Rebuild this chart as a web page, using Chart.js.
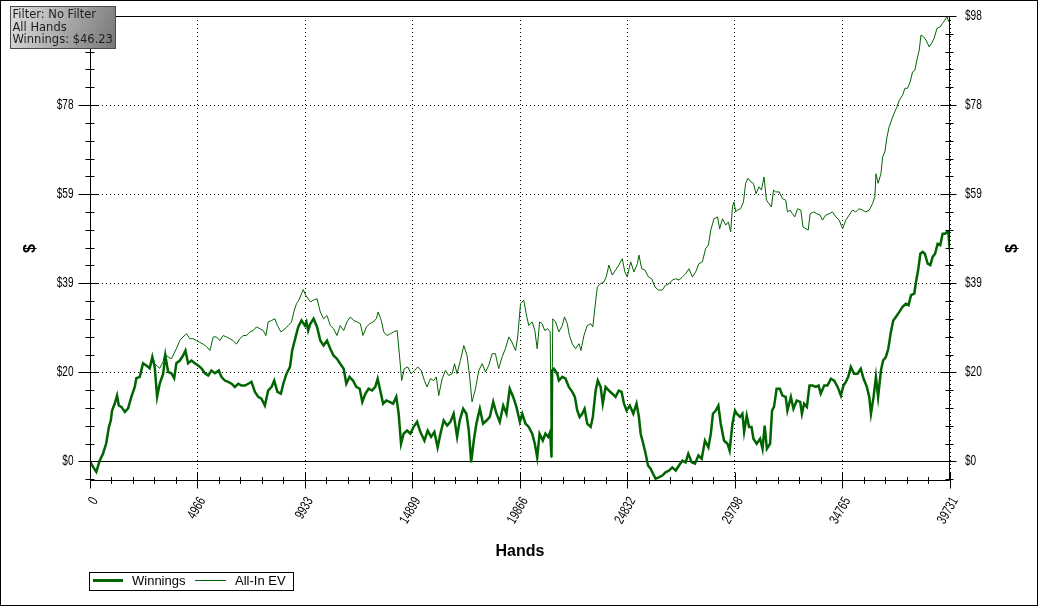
<!DOCTYPE html>
<html>
<head>
<meta charset="utf-8">
<script src="https://cdn.jsdelivr.net/npm/chart.js@4.4.0/dist/chart.umd.min.js"></script>
<style>
  html, body { margin: 0; padding: 0; background: #fff; }
</style>
</head>
<body>
<canvas id="myChart" width="1038" height="606"></canvas>
<script>
// Hands played at each sampled point, and cumulative winnings ($)
const winHands = [0, 140, 290, 450, 600, 750, 870, 960, 1020, 1140, 1250, 1330, 1450, 1610, 1760, 1910, 2070, 2140, 2300, 2450, 2600, 2760, 2880, 2990, 3100, 3220, 3380, 3480, 3610, 3760, 3890, 3990, 4150, 4300, 4410, 4530, 4690, 4840, 5000, 5150, 5310, 5460, 5610, 5770, 5950, 6070, 6230, 6380, 6540, 6690, 6850, 7000, 7160, 7310, 7460, 7620, 7770, 7920, 8080, 8230, 8390, 8510, 8660, 8820, 8930, 9080, 9240, 9340, 9500, 9620, 9770, 9930, 10000, 10080,
  10180, 10330, 10490, 10640, 10790, 10950, 11100, 11250, 11410, 11560, 11720, 11840, 11990, 12150, 12300, 12460, 12580, 12720, 12870, 13030, 13180, 13290, 13410, 13540, 13690, 13840, 14000, 14150, 14260, 14370, 14490, 14650, 14800, 14950, 15110, 15260, 15450, 15600, 15760, 15910, 16060, 16190, 16340, 16500, 16650, 16800, 16960, 17080, 17240, 17390, 17500, 17610, 17730, 17850, 18010, 18160, 18320, 18470, 18630, 18780, 18930, 19090, 19240, 19390, 19550, 19700, 19860,
  19970, 20120, 20270, 20430, 20550, 20660, 20770, 20920, 21040, 21170, 21260, 21320, 21350, 21430, 21590, 21660, 21820, 21970, 22120, 22280, 22400, 22510, 22620, 22740, 22850, 22970, 23130, 23230, 23360, 23460, 23590, 23690, 23820, 23970, 24130, 24280, 24430, 24560, 24670, 24790, 24940, 25100, 25250, 25360, 25440, 25560, 25670, 25780, 25900, 26010, 26130, 26280, 26440, 26590, 26750, 26900, 27060, 27210, 27370, 27520, 27640, 27800, 27950, 28110, 28260, 28410, 28570, 28680, 28780, 28910, 29030, 29140, 29290, 29450, 29550, 29680, 29800,
  29880, 30030, 30140, 30220, 30340, 30450, 30560, 30650, 30800, 30960, 31070, 31170, 31270, 31420, 31510, 31600, 31720, 31870, 31990, 32140, 32220, 32380, 32500, 32650, 32810, 32890, 32990, 33120, 33240, 33380, 33530, 33660, 33760, 33920, 34070, 34230, 34380, 34540, 34690, 34810, 34920, 35030, 35150, 35300, 35460, 35610, 35740, 35890, 36000, 36080, 36200, 36310, 36410, 36540, 36640, 36770, 36880, 37000, 37110, 37230, 37390, 37540, 37690, 37820, 37930, 38080, 38160, 38260, 38360, 38470, 38570, 38700, 38820, 38930, 39040, 39160, 39280, 39390, 39500, 39590, 39650, 39731];
const winnings = [0, -1.2, -2.3, 0.2, 1.7, 4.0, 7.5, 9.0, 11.2, 12.7, 14.5, 12.3, 12.0, 10.9, 11.7, 14.2, 16.4, 18.3, 18.6, 21.6, 21.1, 20.5, 23.0, 20.8, 14.2, 17.1, 19.3, 23.3, 19.7, 19.4, 18.3, 21.6, 22.2, 23.3, 24.4, 21.6, 22.2, 21.6, 21.1, 20.5, 19.4, 18.9, 20.0, 19.4, 20.0, 18.6, 17.8, 17.5, 17.1, 16.4, 17.1, 16.7, 16.7, 17.1, 17.5, 15.3, 14.2, 13.8, 12.3, 15.6, 16.4, 17.8, 15.3, 14.9, 17.1, 19.3, 20.8, 24.4, 27.4, 29.6, 31.0, 29.9, 30.7, 28.8,
  30.3, 31.4, 29.6, 26.6, 25.5, 26.6, 24.8, 23.3, 22.6, 21.5, 20.4, 17.1, 18.6, 17.8, 16.4, 16.0, 13.1, 14.9, 16.0, 15.6, 16.4, 18.2, 15.6, 12.7, 13.4, 13.1, 12.7, 14.2, 10.5, 3.9, 6.1, 6.8, 6.1, 7.6, 8.7, 6.5, 4.6, 6.8, 5.4, 6.5, 3.1, 6.1, 9.0, 7.9, 8.7, 10.5, 5.4, 9.0, 11.6, 10.5, 6.8, -0.2, 4.6, 8.3, 11.6, 8.3, 9.0, 9.8, 13.1, 10.5, 8.7, 12.3, 10.5, 16.0, 14.2, 12.0, 8.7,
  10.5, 8.3, 7.6, 6.1, 3.9, 0.9, 6.1, 4.6, 6.1, 5.4, 6.5, 0.9, 20.0, 20.4, 19.3, 17.8, 18.6, 18.2, 16.4, 15.3, 14.2, 11.2, 9.8, 10.5, 11.6, 8.3, 7.6, 9.8, 15.6, 17.8, 16.4, 12.7, 16.4, 15.6, 14.9, 14.2, 15.6, 15.3, 12.7, 11.2, 12.3, 10.5, 12.7, 9.8, 6.1, 3.9, 1.7, -0.9, -1.6, -2.7, -3.8, -3.5, -3.1, -2.4, -2.0, -1.3, -2.0, -0.9, 0.2, -0.2, 1.7, -0.2, -0.5, 1.3, 0.6, 4.6, 3.1, 6.1, 10.5, 11.2, 12.3, 8.3, 4.6, 3.9, 2.4, 8.3, 11.2,
  10.5, 9.8, 10.5, 6.5, 10.1, 7.6, 7.6, 5.0, 3.9, 5.0, 2.8, 7.9, 2.8, 3.9, 11.2, 12.0, 16.0, 16.0, 14.5, 14.2, 11.2, 14.2, 11.6, 13.4, 13.1, 10.5, 12.7, 12.0, 16.7, 16.7, 16.4, 16.7, 14.9, 16.7, 16.7, 18.2, 17.8, 16.4, 14.5, 16.7, 17.5, 18.6, 20.8, 19.3, 19.3, 20.4, 18.2, 16.4, 14.2, 10.5, 14.2, 18.6, 14.2, 20.0, 22.2, 23.0, 24.8, 28.5, 31.0, 31.8, 32.9, 34.0, 34.7, 34.4, 36.6, 36.9, 39.5, 42.1, 45.7, 46.1, 45.7, 43.5, 43.2, 45.0, 45.7, 47.9, 47.6, 50.1, 50.1, 50.5, 50.5, 46.23];

// Hands played at each sampled point, and cumulative all-in EV ($)
const evHands = [0, 140, 290, 450, 600, 750, 870, 960, 1020, 1140, 1250, 1330, 1450, 1610, 1760, 1910, 2070, 2140, 2300, 2450, 2600, 2760, 2880, 2990, 3100, 3220, 3380, 3450, 3610, 3760, 3990, 4150, 4300, 4460, 4610, 4760, 4920, 5070, 5230, 5380, 5540, 5690, 5840, 6000, 6150, 6300, 6460, 6610, 6770, 6920, 7080, 7230, 7390, 7540, 7690, 7850, 8000, 8130, 8230, 8390, 8540, 8660, 8820, 9010, 9160, 9310, 9440, 9540, 9650, 9770, 9850, 9960,
  10020, 10180, 10330, 10490, 10640, 10790, 10950, 11100, 11250, 11410, 11560, 11720, 11870, 12030, 12180, 12340, 12490, 12610, 12770, 12920, 13080, 13230, 13310, 13460, 13570, 13720, 13880, 14030, 14190, 14290, 14400, 14520, 14680, 14830, 14990, 15140, 15300, 15450, 15570, 15730, 15880, 16000, 16110, 16270, 16420, 16570, 16730, 16840, 16960, 17110, 17270, 17420, 17540, 17650, 17810, 17960, 18120, 18270, 18420, 18580, 18730, 18880, 19040, 19190, 19350, 19500, 19660, 19760,
  19890, 20040, 20150, 20270, 20430, 20550, 20660, 20770, 20890, 21010, 21140, 21260, 21320, 21380, 21510, 21660, 21820, 21920, 22050, 22150, 22280, 22430, 22590, 22680, 22820, 22970, 23130, 23230, 23330, 23440, 23590, 23740, 23850, 23970, 24130, 24280, 24430, 24590, 24710, 24820, 24980, 25130, 25290, 25360, 25490, 25640, 25800, 25950, 26100, 26260, 26440, 26590, 26750, 26900, 27060, 27210, 27370, 27520, 27670, 27830, 27980, 28130, 28290, 28440, 28570, 28680, 28830, 28990, 29090, 29220, 29370, 29490, 29600, 29680, 29750, 29830,
  29910, 30060, 30190, 30290, 30400, 30530, 30650, 30770, 30910, 31020, 31140, 31250, 31370, 31480, 31580, 31680, 31840, 31990, 32140, 32220, 32340, 32450, 32560, 32690, 32840, 32940, 33070, 33180, 33270, 33430, 33580, 33730, 33840, 33990, 34150, 34300, 34460, 34610, 34770, 34920, 35070, 35230, 35380, 35530, 35690, 35840, 36000, 36150, 36260, 36310, 36410, 36540, 36620, 36720, 36820, 36920, 37030, 37150, 37280, 37390, 37540, 37650, 37770, 37890, 38000, 38110, 38200, 38310, 38390, 38510, 38620, 38770, 38880, 39000, 39130, 39280, 39390, 39500, 39590, 39670, 39731];
const allInEv = [0, -1.2, -2.3, 0.2, 1.7, 4.0, 7.5, 9.0, 11.2, 12.7, 14.5, 12.3, 12.0, 10.9, 11.7, 14.2, 16.4, 18.3, 18.6, 21.6, 21.1, 20.5, 23.0, 21.5, 21.0, 20.5, 22.0, 23.7, 23.0, 22.6, 24.8, 26.6, 27.4, 28.1, 27.0, 27.0, 26.6, 26.2, 25.8, 25.3, 24.4, 27.4, 27.4, 26.6, 27.7, 27.4, 27.0, 26.6, 25.8, 27.0, 27.7, 27.7, 28.5, 28.8, 29.6, 29.2, 28.8, 27.7, 30.7, 31.0, 31.4, 29.9, 28.5, 29.2, 29.9, 30.7, 33.3, 34.7, 35.5, 36.9, 37.8, 36.6,
  36.2, 35.1, 35.5, 35.8, 32.9, 31.4, 32.1, 29.9, 29.2, 27.7, 29.9, 28.8, 30.7, 31.8, 31.0, 30.7, 30.3, 27.7, 29.6, 30.3, 30.7, 31.4, 32.9, 31.0, 28.5, 27.7, 28.1, 28.5, 28.8, 23.7, 17.8, 20.4, 20.8, 19.3, 20.0, 20.8, 20.0, 17.8, 16.4, 18.2, 17.8, 18.6, 14.5, 18.2, 20.0, 18.9, 19.3, 21.5, 19.3, 22.2, 25.5, 23.3, 18.6, 13.1, 16.0, 20.0, 21.5, 19.7, 21.1, 23.7, 23.7, 20.4, 23.0, 24.8, 27.4, 26.2, 24.4, 27.4,
  34.7, 35.5, 32.5, 29.9, 30.7, 28.8, 24.8, 30.7, 30.3, 28.8, 29.2, 28.5, 0.9, 31.4, 30.7, 28.5, 29.9, 31.8, 30.3, 27.7, 25.9, 24.8, 25.9, 24.4, 27.7, 29.9, 30.3, 29.6, 34.0, 38.4, 39.1, 39.5, 40.6, 43.2, 41.0, 42.1, 43.2, 44.6, 41.7, 40.6, 43.9, 41.7, 43.5, 45.4, 42.4, 42.1, 40.6, 40.2, 38.4, 37.7, 37.7, 38.8, 39.1, 39.9, 40.2, 39.9, 40.6, 41.3, 42.4, 40.6, 41.7, 43.5, 43.9, 46.8, 47.6, 50.9, 53.4, 53.8, 51.2, 53.4, 52.0, 52.7, 50.5, 56.0, 57.1, 54.9,
  55.3, 55.6, 57.1, 61.2, 62.3, 61.5, 61.2, 58.9, 60.4, 59.7, 62.6, 57.5, 56.7, 56.0, 59.7, 59.3, 59.3, 57.8, 57.5, 54.9, 55.3, 54.5, 53.8, 55.6, 55.3, 51.6, 51.2, 50.9, 54.5, 54.9, 54.5, 54.2, 53.1, 54.2, 54.5, 54.9, 53.8, 53.1, 51.2, 53.1, 54.2, 55.3, 54.9, 55.6, 55.3, 54.9, 55.3, 56.7, 58.2, 63.3, 61.2, 63.3, 67.0, 68.1, 71.4, 73.6, 75.1, 76.6, 78.0, 79.5, 80.6, 82.1, 82.1, 83.5, 85.7, 86.1, 88.3, 90.5, 93.8, 93.4, 92.7, 91.2, 92.0, 93.1, 95.3, 95.6, 96.4, 97.1, 97.9, 96.8, 97.5];

// Axis ticks and their labels
const handTicks = [0, 4966, 9933, 14899, 19866, 24832, 29798, 34765, 39731];
const dollarTicks = [0, 19.6, 39.2, 58.8, 78.4, 98];
const dollarLabels = ["$0", "$20", "$39", "$59", "$78", "$98"];
const infoLines = ["Filter: No Filter", "All Hands", "Winnings: $46.23"];

const GREEN = "#006400";
const TICK_FONT = '14px "Liberation Sans", Arial, sans-serif';
const NARROW = 0.72;

const toPoints = (xs, ys) => xs.map((x, i) => ({ x: x, y: ys[i] }));

// condensed text, like the narrow face the original uses
const narrowText = (ctx, text, x, y, align, angle) => {
  ctx.save();
  ctx.translate(x, y);
  if (angle) ctx.rotate(angle);
  ctx.scale(NARROW, 1);
  ctx.textAlign = align;
  ctx.fillText(text, 0, 0);
  ctx.restore();
};

// Frame, minor ticks, tick labels, titles, legend and filter box
const chromePlugin = {
  id: "chrome",
  beforeDatasetsDraw(chart) {
    const { ctx, chartArea: a, scales: { y } } = chart;
    const zy = Math.round(y.getPixelForValue(0)) + 0.5;
    ctx.save();
    ctx.strokeStyle = "#000";
    ctx.lineWidth = 1;
    ctx.beginPath();
    ctx.moveTo(a.left, zy);
    ctx.lineTo(a.right, zy);
    ctx.stroke();
    ctx.restore();
  },
  afterDraw(chart) {
    const { ctx, chartArea: a, scales: { x, y } } = chart;
    const L = Math.round(a.left) + 0.5;
    const R = Math.round(a.right) - 0.5;
    const T = Math.round(a.top) + 0.5;
    const B = Math.round(a.bottom) - 0.5;
    const seg = (x1, y1, x2, y2) => {
      ctx.beginPath();
      ctx.moveTo(x1, y1);
      ctx.lineTo(x2, y2);
      ctx.stroke();
    };

    ctx.save();
    ctx.strokeStyle = "#000";
    ctx.lineWidth = 1;
    seg(L, T, R, T);
    seg(L, B, R, B);
    seg(L, T, L, B);
    seg(R, T, R, B);

    // x ticks: 5 subdivisions between labelled ticks
    const xStep = (handTicks[1] - handTicks[0]) / 5;
    const xCount = Math.round((handTicks[handTicks.length - 1] - handTicks[0]) / xStep);
    for (let i = 0; i <= xCount; i++) {
      const px = Math.round(x.getPixelForValue(handTicks[0] + i * xStep)) + 0.5;
      if (i % 5 === 0) seg(px, B - 8, px, B + 8);
      else seg(px, B - 3.5, px, B + 3.5);
    }

    // y ticks on both sides
    const yStep = (dollarTicks[1] - dollarTicks[0]) / 5;
    for (let k = -1; k <= 25; k++) {
      const py = Math.round(y.getPixelForValue(k * yStep)) + 0.5;
      if (py < a.top - 1 || py > a.bottom + 1) continue;
      if (k % 5 === 0) {
        seg(L - 12, py, L + 8, py);
        seg(R - 9, py, R + 7, py);
      } else {
        seg(L - 5, py, L + 4, py);
        seg(R - 4, py, R + 4, py);
      }
    }

    ctx.fillStyle = "#000";
    ctx.font = TICK_FONT;
    ctx.textBaseline = "middle";

    // dollar labels on both sides
    dollarTicks.forEach((v, i) => {
      const py = y.getPixelForValue(v);
      narrowText(ctx, dollarLabels[i], 73.5, py, "right");
      narrowText(ctx, dollarLabels[i], 965, py, "left");
    });

    // rotated hand labels
    handTicks.forEach((v) => {
      const px = x.getPixelForValue(v);
      narrowText(ctx, String(v), px + 5, B + 18, "right", -Math.PI / 3);
    });

    // axis titles
    ctx.font = 'bold 16px "Liberation Sans", Arial, sans-serif';
    ctx.textAlign = "center";
    ctx.fillText("Hands", (a.left + a.right) / 2, 552);
    const midY = (a.top + a.bottom) / 2;
    [31, 1013].forEach((tx) => {
      ctx.save();
      ctx.translate(tx, midY);
      ctx.rotate(-Math.PI / 2);
      ctx.fillText("$", 0, 0);
      ctx.restore();
    });

    // legend
    ctx.strokeStyle = "#000";
    ctx.strokeRect(89.5, 572.5, 204, 18);
    const ds = chart.data.datasets;
    ctx.font = '13px "Liberation Sans", Arial, sans-serif';
    ctx.textAlign = "left";
    ctx.textBaseline = "middle";
    const items = [
      { x0: 93, x1: 123, tx: 132 },
      { x0: 195, x1: 226, tx: 235 }
    ];
    items.forEach((it, i) => {
      ctx.strokeStyle = ds[i].borderColor;
      ctx.lineWidth = i === 0 ? 3 : 1;
      seg(it.x0, 580.5, it.x1, 580.5);
      ctx.fillStyle = "#000";
      ctx.fillText(ds[i].label, it.tx, 581.5);
    });

    // filter box
    const g = ctx.createLinearGradient(10, 6, 116, 48);
    g.addColorStop(0, "#e0e0e0");
    g.addColorStop(1, "#767676");
    ctx.fillStyle = g;
    ctx.fillRect(10.5, 6.5, 105, 42);
    ctx.strokeStyle = "#4a4a4a";
    ctx.lineWidth = 1;
    ctx.strokeRect(10.5, 6.5, 105, 42);
    ctx.fillStyle = "#1e1e1e";
    ctx.font = '11.5px "DejaVu Sans", Verdana, sans-serif';
    ctx.textBaseline = "alphabetic";
    infoLines.forEach((t, i) => ctx.fillText(t, 12.5, 18 + i * 12.6));

    // outer border
    ctx.strokeStyle = "#000";
    ctx.strokeRect(0.5, 0.5, 1037, 605);
    ctx.restore();
  }
};

const ctx = document.getElementById("myChart");

new Chart(ctx, {
  type: "line",
  data: {
    datasets: [
      {
        label: "Winnings",
        data: toPoints(winHands, winnings),
        borderColor: GREEN,
        borderWidth: 2.5,
        pointRadius: 0,
        tension: 0
      },
      {
        label: "All-In EV",
        data: toPoints(evHands, allInEv),
        borderColor: GREEN,
        borderWidth: 1,
        pointRadius: 0,
        tension: 0
      }
    ]
  },
  options: {
    responsive: false,
    animation: false,
    devicePixelRatio: 1,
    layout: { padding: { top: 16, left: 0, right: 88, bottom: 0 } },
    plugins: { legend: { display: false }, tooltip: { enabled: false } },
    scales: {
      x: {
        type: "linear",
        min: handTicks[0],
        max: handTicks[handTicks.length - 1],
        afterBuildTicks: (s) => { s.ticks = handTicks.map((v) => ({ value: v })); },
        afterFit: (s) => { s.height = 125; },
        ticks: { display: false },
        grid: { color: "#000", lineWidth: 1, drawTicks: false },
        border: { display: false, dash: [1, 3] }
      },
      y: {
        position: "left",
        min: -4.3,
        max: 98,
        afterBuildTicks: (s) => { s.ticks = dollarTicks.map((v) => ({ value: v })); },
        afterFit: (s) => { s.width = 90; },
        ticks: { display: false },
        grid: { color: "#000", lineWidth: 1, drawTicks: false },
        border: { display: false, dash: [1, 3] }
      }
    }
  },
  plugins: [chromePlugin]
});
</script>
</body>
</html>
